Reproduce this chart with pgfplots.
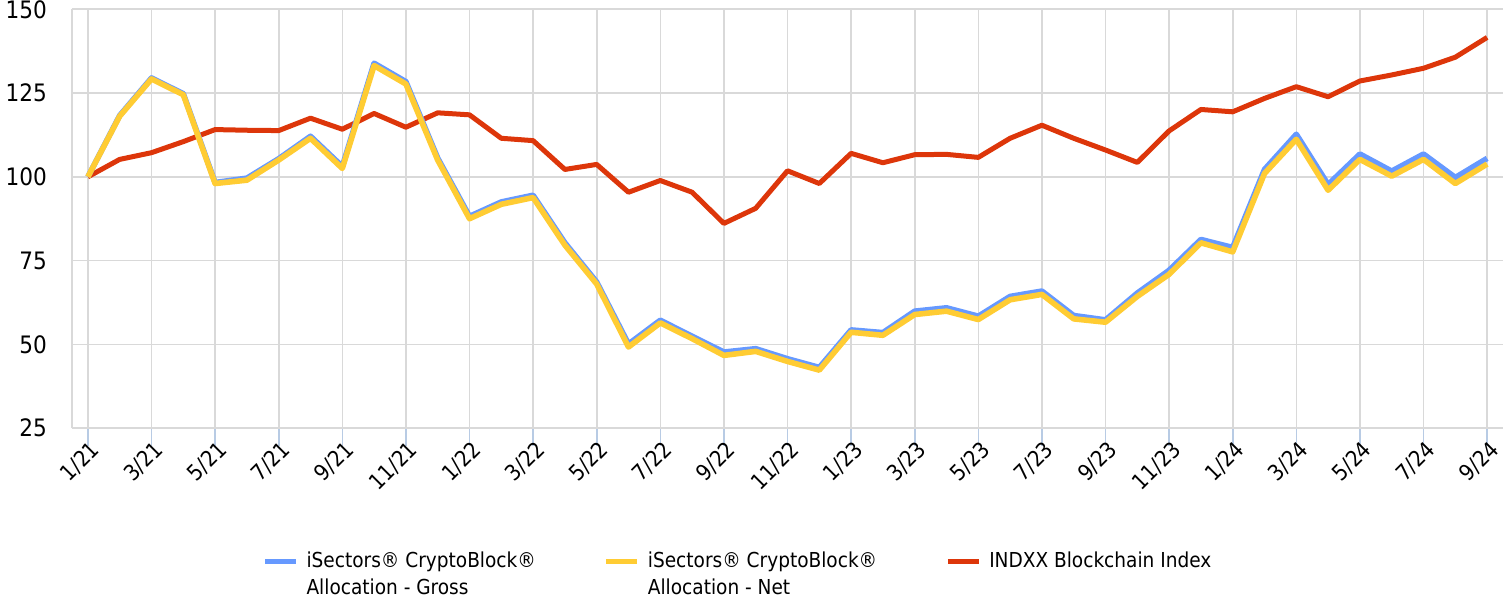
\documentclass[border=0pt]{standalone}
\usepackage{fontspec}
\setmainfont{DejaVu Sans Condensed}
\usepackage{pgfplots}
\pgfplotsset{compat=1.18}
\definecolor{cgross}{RGB}{102,153,255}
\definecolor{cnet}{RGB}{255,204,51}
\definecolor{cidx}{RGB}{221,54,10}
\definecolor{cgrid}{RGB}{217,217,217}
\definecolor{ctick}{RGB}{184,203,228}

\pgfplotstableread{
x gross net idx
0 100 100 100
1 118.3 118.1 105.2
2 129.5 129.2 107.2
3 124.8 124.5 110.5
4 98.3 98.0 114.1
5 99.6 99.0 113.9
6 105.4 105.0 113.8
7 112.1 111.5 117.5
8 103.1 102.5 114.2
9 133.9 133.2 118.9
10 128.4 127.7 114.8
11 105.6 105.0 119.1
12 88.2 87.5 118.5
13 92.5 91.8 111.5
14 94.5 93.8 110.8
15 80.3 79.6 102.2
16 68.6 68.0 103.7
17 50.1 49.2 95.4
18 57.2 56.4 98.9
19 52.4 51.7 95.4
20 47.7 46.7 86.1
21 48.7 47.9 90.6
22 45.7 44.9 101.8
23 43.1 42.3 98.0
24 54.3 53.6 107.0
25 53.5 52.7 104.2
26 59.9 58.9 106.6
27 60.9 59.9 106.7
28 58.4 57.4 105.8
29 64.3 63.3 111.5
30 65.9 64.9 115.4
31 58.6 57.6 111.5
32 57.3 56.6 108.0
33 65.3 64.3 104.3
34 72.1 70.9 113.7
35 81.3 80.3 120.1
36 78.9 77.6 119.4
37 102.2 101.0 123.4
38 112.7 111.2 126.9
39 97.7 96.0 123.9
40 106.8 105.2 128.6
41 101.7 100.2 130.4
42 106.8 105.2 132.4
43 99.8 98.0 135.7
44 105.5 103.8 141.6
}\datatable

\begin{document}
\begin{tikzpicture}
\begin{axis}[
  scale only axis, width=715.5pt, height=209.4pt,
  at={(0,0)}, anchor=south west,
  xmin=-0.5, xmax=44.5, ymin=25, ymax=150,
  xtick={0,2,...,44},
  xticklabels={1/21,3/21,5/21,7/21,9/21,11/21,1/22,3/22,5/22,7/22,9/22,11/22,1/23,3/23,5/23,7/23,9/23,11/23,1/24,3/24,5/24,7/24,9/24},
  ytick={25,50,...,150},
  axis x line*=bottom, axis y line*=left,
  axis line style={cgrid, line width=0.8pt, -},
  grid=major, grid style={cgrid, line width=0.8pt},
  tick align=outside, major tick length=9pt,
  x tick style={ctick, line width=0.8pt},
  y tick style={draw=none},
  tick label style={font=\fontsize{11}{13}\selectfont, black},
  yticklabel style={font=\fontsize{12}{14}\selectfont},
  xticklabel style={rotate=45, anchor=north east, inner sep=1pt, xshift=4pt, yshift=3pt},
  /pgf/number format/assume math mode=true,
  legend columns=3,
  legend cell align=left,
  legend style={draw=none, fill=none, at={(0.1287,-0.269)}, anchor=north west,
    font=\fontsize{10.3}{13.3}\selectfont,
    cells={anchor=base west},
    /tikz/every odd column/.append style={column sep=2pt},
    /tikz/every even column/.append style={column sep=32pt}},
  legend image code/.code={\draw[#1, line width=2.5pt] (0pt,0.33em) -- (15.5pt,0.33em);},
  line join=round,
]
\addplot[cidx, line width=2.5pt, forget plot] table[x=x, y=idx] {\datatable};
\addplot[cgross, line width=2.8pt] table[x=x, y=gross] {\datatable};
\addplot[cnet, line width=2.8pt] table[x=x, y=net] {\datatable};
\addlegendimage{cidx, line width=2.5pt}
\legend{{\begin{tabular}[t]{@{}l@{}}iSectors® CryptoBlock®\\Allocation - Gross\end{tabular}}, {\begin{tabular}[t]{@{}l@{}}iSectors® CryptoBlock®\\Allocation - Net\end{tabular}}, INDXX Blockchain Index}
\end{axis}
\pgfresetboundingbox
\useasboundingbox (-36pt,-85.5pt) rectangle (719pt,214.05pt);
\end{tikzpicture}
\end{document}
